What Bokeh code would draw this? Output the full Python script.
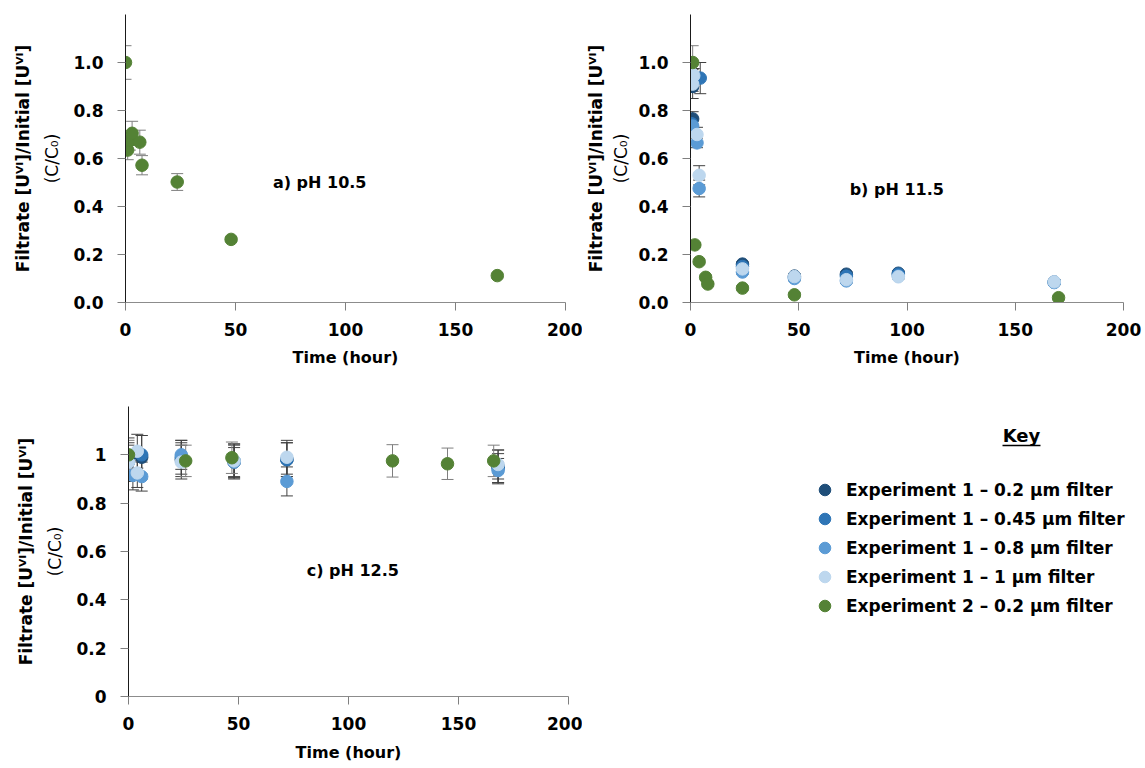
from bokeh.plotting import figure
from bokeh.models import (Range1d, FixedTicker, LinearAxis, Label, Whisker,
                          ColumnDataSource, TeeHead, Legend, LegendItem)
from bokeh.layouts import column, row
from bokeh.embed import file_html
from bokeh.resources import INLINE

FONT = "DejaVu Sans"

# ---------------- data ----------------
SERIES = ["Experiment 1 – 0.2 µm filter", "Experiment 1 – 0.45 µm filter",
          "Experiment 1 – 0.8 µm filter", "Experiment 1 – 1 µm filter",
          "Experiment 2 – 0.2 µm filter"]
COLORS = ["#1F4E79", "#2E75B6", "#5B9BD5", "#BDD7EE", "#548235"]
ERR_COLORS = ["#404040", "#404040", "#404040", "#404040", "#7F7F7F"]

X_TICKS = [0, 50, 100, 150, 200]
Y_TICKS = [0, 0.2, 0.4, 0.6, 0.8, 1.0]
Y_LABELS_AB = ["0.0", "0.2", "0.4", "0.6", "0.8", "1.0"]
Y_LABELS_C = ["0", "0.2", "0.4", "0.6", "0.8", "1"]

# a) pH 10.5 -- only Experiment 2
A_E2_T = [0, 1, 2, 3, 6.5, 7.5, 23.5, 48, 169]
A_E2_C = [1.0, 0.635, 0.675, 0.705, 0.668, 0.572, 0.502, 0.263, 0.112]
A_E2_E = [0.07, 0.04, 0.04, 0.05, 0.05, 0.04, 0.035, 0.008, 0.01]

# b) pH 11.5
B_02_T = [1, 1, 24, 48, 72, 96, 168]
B_02_C = [0.90, 0.765, 0.16, 0.11, 0.118, 0.122, 0.085]
B_02_E = [0.05, 0.03, 0.01, 0.01, 0.01, 0.01, 0.01]
B_045_T = [4.5, 0.5, 24, 48, 72, 96, 168]
B_045_C = [0.935, 0.745, 0.15, 0.105, 0.11, 0.118, 0.085]
B_045_E = [0.065, 0.03, 0.01, 0.01, 0.01, 0.01, 0.01]
B_08_T = [1, 1, 3, 4, 24, 48, 72, 96, 168]
B_08_C = [0.94, 0.735, 0.665, 0.475, 0.127, 0.10, 0.09, 0.11, 0.083]
B_08_E = [0.03, 0.03, 0.02, 0.035, 0.01, 0.01, 0.01, 0.01, 0.01]
B_1_T = [0.5, 1.5, 1, 3, 4, 24, 48, 72, 96, 168]
B_1_C = [0.955, 0.945, 0.91, 0.70, 0.53, 0.14, 0.108, 0.095, 0.107, 0.086]
B_1_E = [0.03, 0.03, 0.03, 0.03, 0.04, 0.01, 0.01, 0.01, 0.01, 0.01]
B_E2_T = [1, 2, 4, 7, 8, 24, 48, 170]
B_E2_C = [1.0, 0.24, 0.17, 0.105, 0.077, 0.06, 0.032, 0.02]
B_E2_E = [0.07, 0.01, 0.01, 0.01, 0.01, 0.01, 0.01, 0.01]

# c) pH 12.5
C_02_T = [0, 6, 24, 48, 72, 168]
C_02_C = [0.98, 0.99, 0.98, 0.97, 0.98, 0.95]
C_02_E = [0.09, 0.09, 0.07, 0.07, 0.07, 0.07]
C_045_T = [0, 6, 24, 48, 72, 168]
C_045_C = [0.97, 1.0, 0.99, 0.975, 0.98, 0.945]
C_045_E = [0.08, 0.08, 0.07, 0.07, 0.07, 0.06]
C_08_T = [2, 6, 24, 48, 72, 168]
C_08_C = [0.915, 0.91, 1.0, 0.97, 0.89, 0.935]
C_08_E = [0.06, 0.06, 0.06, 0.06, 0.06, 0.05]
C_1_T = [0, 4, 4, 24, 48, 72, 168]
C_1_C = [0.97, 1.015, 0.925, 0.97, 0.975, 0.99, 0.96]
C_1_E = [0.07, 0.07, 0.06, 0.07, 0.07, 0.07, 0.06]
C_E2_T = [0, 26, 47, 120, 145, 166]
C_E2_C = [1.0, 0.975, 0.988, 0.975, 0.963, 0.975]
C_E2_E = [0.06, 0.065, 0.065, 0.067, 0.065, 0.065]

PANEL_A = [None, None, None, None, (A_E2_T, A_E2_C, A_E2_E)]
PANEL_B = [(B_02_T, B_02_C, B_02_E), (B_045_T, B_045_C, B_045_E),
           (B_08_T, B_08_C, B_08_E), (B_1_T, B_1_C, B_1_E),
           (B_E2_T, B_E2_C, B_E2_E)]
PANEL_C = [(C_02_T, C_02_C, C_02_E), (C_045_T, C_045_C, C_045_E),
           (C_08_T, C_08_C, C_08_E), (C_1_T, C_1_C, C_1_E),
           (C_E2_T, C_E2_C, C_E2_E)]

Y_TITLE_1 = "Filtrate [Uⱽᴵ]/Initial [Uⱽᴵ]"
Y_TITLE_2 = "(C/C₀)"
X_TITLE = "Time (hour)"


def make_panel(series, title, title_xy, ylabels, width, height, borders,
               std=(8, 6), xstd=9):
    left, right, top, bottom = borders
    p = figure(width=width, height=height, x_range=Range1d(0, 200),
               y_range=Range1d(0, 1.2), toolbar_location=None,
               output_backend="svg", min_border_left=left,
               min_border_right=right, min_border_top=top,
               min_border_bottom=bottom, outline_line_color=None)
    p.grid.visible = False
    xa = p.xaxis[0]
    xa.ticker = FixedTicker(ticks=X_TICKS)
    xa.axis_line_color = "#8C8C8C"
    ya = p.yaxis[0]
    ya.ticker = FixedTicker(ticks=Y_TICKS)
    ya.major_label_overrides = {t: l for t, l in zip(Y_TICKS, ylabels)}
    ya.axis_line_color = "#1A1A1A"
    for ax in (xa, ya):
        ax.major_tick_line_color = "#7F7F7F"
        ax.major_tick_out = 8
        ax.major_tick_in = 0
        ax.minor_tick_line_color = None
        ax.major_label_text_font = FONT
        ax.major_label_text_font_style = "bold"
        ax.major_label_text_font_size = "17px"
        ax.major_label_text_color = "black"
        ax.axis_label_text_font = FONT
        ax.axis_label_text_color = "black"
    xa.major_label_standoff = 12
    xa.axis_label = X_TITLE
    xa.axis_label_text_font_style = "bold"
    xa.axis_label_text_font_size = "16px"
    xa.axis_label_standoff = xstd
    ya.major_label_standoff = 14
    ya.axis_label = Y_TITLE_2
    ya.axis_label_text_font_style = "normal"
    ya.axis_label_text_font_size = "17px"
    ya.axis_label_standoff = std[0]
    ya2 = LinearAxis(ticker=FixedTicker(ticks=[]), axis_line_color=None,
                     major_tick_line_color=None, minor_tick_line_color=None,
                     major_tick_out=0, major_tick_in=0,
                     major_label_text_font_size="0px", major_label_standoff=0,
                     axis_label=Y_TITLE_1, axis_label_text_font=FONT,
                     axis_label_text_font_style="bold",
                     axis_label_text_font_size="17px",
                     axis_label_text_color="black", axis_label_standoff=std[1])
    p.add_layout(ya2, "left")

    for s, col, ecol in zip(series, COLORS, ERR_COLORS):
        if s is None:
            continue
        t, c, e = s
        src = ColumnDataSource(dict(t=t, c=c,
                                    lo=[ci - ei for ci, ei in zip(c, e)],
                                    hi=[ci + ei for ci, ei in zip(c, e)]))
        w = Whisker(base="t", lower="lo", upper="hi", source=src,
                    line_color=ecol, line_width=1, level="underlay",
                    upper_head=TeeHead(size=12, line_color=ecol, line_width=1),
                    lower_head=TeeHead(size=12, line_color=ecol, line_width=1))
        p.add_layout(w)
        p.scatter("t", "c", source=src, size=12.5, fill_color=col,
                  line_color=col)
    p.add_layout(Label(x=title_xy[0], y=title_xy[1], text=title,
                       text_font=FONT, text_font_style="bold",
                       text_font_size="16px", text_color="black",
                       text_baseline="middle"))
    return p


pa = make_panel(PANEL_A, "a) pH 10.5", (67, 0.5), Y_LABELS_AB,
                582, 380, (125, 17, 14, 78), std=(8, 7), xstd=9)
pb = make_panel(PANEL_B, "b) pH 11.5", (73.5, 0.47), Y_LABELS_AB,
                563, 380, (102, 22, 14, 78), std=(4, 3), xstd=9)
pc = make_panel(PANEL_C, "c) pH 12.5", (81, 0.52), Y_LABELS_C,
                582, 388, (128, 14, 26, 72), std=(8, 7), xstd=10)

# legend panel (frame aligned with panel c: top 26, height 290)
pl = figure(width=563, height=388, x_range=Range1d(0, 563),
            y_range=Range1d(316, 26), toolbar_location=None,
            output_backend="svg", min_border_left=0, min_border_right=0,
            min_border_top=26, min_border_bottom=72, x_axis_location=None,
            y_axis_location=None, outline_line_color=None)
pl.grid.visible = False
items = []
for name, col, s in zip(SERIES, COLORS, PANEL_C):
    r = pl.scatter(x=s[0][:1], y=s[1][:1], size=12, fill_color=col,
                   line_color=col, visible=False)
    items.append(LegendItem(label=name, renderers=[r]))
leg = Legend(items=items, location=(228, 76), glyph_width=29,
             glyph_height=29, label_height=29, spacing=0, label_standoff=7,
             padding=0, margin=0, border_line_color=None,
             background_fill_alpha=0, label_text_font=FONT,
             label_text_font_size="17px", label_text_font_style="bold",
             label_text_color="black")
pl.add_layout(leg)
pl.add_layout(Label(x=439, y=55, text="Key", text_font=FONT,
                    text_font_style="bold", text_font_size="18px",
                    text_color="black", text_align="center",
                    text_baseline="middle"))
pl.segment(x0=[420], y0=[65], x1=[458], y1=[65], line_color="black",
           line_width=1.5)

layout = column(row(pa, pb), row(pc, pl))
open("out.html", "w").write(file_html(layout, INLINE))
